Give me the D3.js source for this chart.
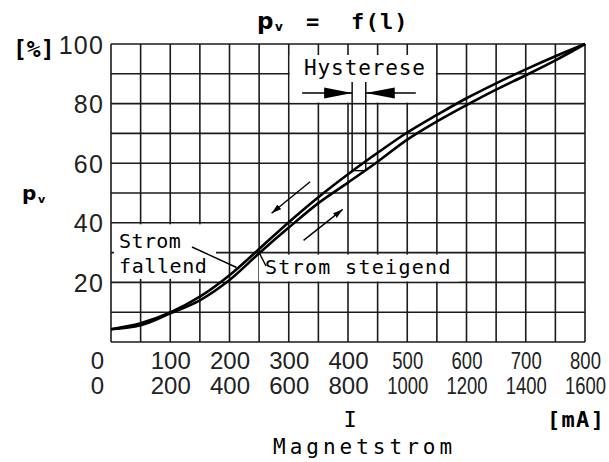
<!DOCTYPE html>
<html>
<head>
<meta charset="utf-8">
<script src="https://cdn.jsdelivr.net/npm/d3@7"></script>
<style>
  body { margin: 0; background: #fff; }
  svg text { white-space: pre; }
</style>
</head>
<body>
<div id="chart"></div>
<script>
// Magnetstrom I [mA] (upper scale) and valve opening pv [%]
const current = [0, 50, 100, 150, 200, 250, 300, 350, 400, 450, 500, 550, 600, 650, 700, 750, 800];
const pvFallend = [4.3, 6.3, 9.9, 15.2, 22.4, 31.2, 40.2, 48.6, 56.3, 63.5, 70.3, 76.2, 81.8, 86.8, 91.5, 95.9, 100];
const pvSteigend = [4.3, 5.6, 9.6, 14.0, 20.8, 29.8, 38.4, 46.6, 53.5, 60.5, 67.9, 74.0, 79.5, 84.7, 89.5, 94.5, 100];

const xTicksTop = [0, 100, 200, 300, 400, 500, 600, 700, 800];
const xTicksBottom = [0, 200, 400, 600, 800, 1000, 1200, 1400, 1600];
const yTicks = [20, 40, 60, 80, 100];

// hysteresis marker: level and the two currents
const hystP = 57.5, hystFall = 407, hystRise = 430;

const width = 609, height = 462;
const margin = {top: 44, right: 24, bottom: 120, left: 111};

const svg = d3.select("#chart").append("svg")
    .attr("width", width)
    .attr("height", height);

const x = d3.scaleLinear().domain([0, 800]).range([margin.left, width - margin.right]);
const x2 = d3.scaleLinear().domain([0, 1600]).range([margin.left, width - margin.right]);
const y = d3.scaleLinear().domain([0, 100]).range([height - margin.bottom, margin.top]);

const ink = "#1b1b1b";

// grid
const grid = svg.append("g").attr("stroke", ink).attr("stroke-width", 1.6);
grid.selectAll(".v").data(d3.range(0, 801, 50)).join("line")
    .attr("x1", d => x(d)).attr("x2", d => x(d))
    .attr("y1", y(0)).attr("y2", y(100));
grid.selectAll(".h").data(d3.range(0, 101, 10)).join("line")
    .attr("x1", x(0)).attr("x2", x(800))
    .attr("y1", d => y(d)).attr("y2", d => y(d));

// white label boxes over the grid
const boxes = svg.append("g").attr("fill", "#fff");
boxes.append("rect")  // Hysterese
    .attr("x", x(300) + 1).attr("y", 55)
    .attr("width", x(550) - x(300) - 2).attr("height", y(80) - 56);
boxes.append("rect")  // Strom fallend
    .attr("x", 114).attr("y", y(40) + 1.5)
    .attr("width", 102).attr("height", y(20) - y(40) - 5);
boxes.append("rect")  // Strom steigend
    .attr("x", 259).attr("y", y(30) + 2)
    .attr("width", 200).attr("height", y(20) - y(30) - 3);

// curves
const line = d3.line()
    .x((d, i) => x(current[i]))
    .y(d => y(d))
    .curve(d3.curveCatmullRom.alpha(0.5));

svg.append("path").attr("d", line(pvFallend))
    .attr("fill", "none").attr("stroke", "#000").attr("stroke-width", 2.6);
svg.append("path").attr("d", line(pvSteigend))
    .attr("fill", "none").attr("stroke", "#000").attr("stroke-width", 2.6);

// direction arrows
svg.append("defs").append("marker")
    .attr("id", "head")
    .attr("viewBox", "0 0 10 6")
    .attr("refX", 10).attr("refY", 3)
    .attr("markerWidth", 10).attr("markerHeight", 6)
    .attr("markerUnits", "userSpaceOnUse")
    .attr("orient", "auto")
  .append("path")
    .attr("d", "M0,0 L10,3 L0,6 Z")
    .attr("fill", "#000");

const dirArrows = [
  {from: [336, 53.8], to: [271, 43.2]},
  {from: [325, 34.1], to: [391, 44.5]}
];
svg.append("g").selectAll("line").data(dirArrows).join("line")
    .attr("x1", d => x(d.from[0])).attr("y1", d => y(d.from[1]))
    .attr("x2", d => x(d.to[0])).attr("y2", d => y(d.to[1]))
    .attr("stroke", "#000").attr("stroke-width", 1.4)
    .attr("marker-end", "url(#head)");

// leader lines for the curve labels
const leaders = [
  {from: [192, 247], to: [x(212), y(25)]},
  {from: [266, 266], to: [x(250), y(30)]}
];
svg.append("g").selectAll("line").data(leaders).join("line")
    .attr("x1", d => d.from[0]).attr("y1", d => d.from[1])
    .attr("x2", d => d.to[0]).attr("y2", d => d.to[1])
    .attr("stroke", "#000").attr("stroke-width", 1.4);

// hysteresis construction
const hy = 93;
const hg = svg.append("g").attr("stroke", "#000").attr("stroke-width", 1.4);
hg.append("line").attr("x1", x(hystFall)).attr("x2", x(hystFall)).attr("y1", 82).attr("y2", y(hystP));
hg.append("line").attr("x1", x(hystRise)).attr("x2", x(hystRise)).attr("y1", 82).attr("y2", y(hystP));
hg.append("line").attr("x1", x(hystFall)).attr("x2", x(hystRise)).attr("y1", y(hystP)).attr("y2", y(hystP));
hg.append("line").attr("x1", x(hystFall) - 50).attr("x2", x(hystFall)).attr("y1", hy).attr("y2", hy);
hg.append("line").attr("x1", x(hystRise)).attr("x2", x(hystRise) + 50).attr("y1", hy).attr("y2", hy);
hg.append("path").attr("stroke", "none").attr("fill", "#000")
    .attr("d", `M${x(hystFall)},${hy} L${x(hystFall) - 28},${hy - 5.5} L${x(hystFall) - 28},${hy + 5.5} Z`);
hg.append("path").attr("stroke", "none").attr("fill", "#000")
    .attr("d", `M${x(hystRise)},${hy} L${x(hystRise) + 29},${hy - 5.5} L${x(hystRise) + 29},${hy + 5.5} Z`);

// axes (labels only)
const numFont = "'Liberation Sans', Arial, sans-serif";
const mono = "'DejaVu Sans Mono', monospace";

function styleAxis(g, narrowFrom) {
  g.select(".domain").remove();
  g.selectAll(".tick line").remove();
  g.selectAll("text")
      .attr("font-family", numFont)
      .attr("font-size", 24)
      .attr("fill", "#222");
  g.selectAll(".tick text")
      .filter(d => d === 0)
      .attr("x", -14);
  // the right half of the scale is lettered narrower
  g.selectAll(".tick text")
      .filter(d => d >= narrowFrom)
      .attr("transform", "scale(0.77,1)");
}

svg.append("g")
    .attr("transform", `translate(0,${y(0)})`)
    .call(d3.axisBottom(x).tickValues(xTicksTop).tickSize(0).tickPadding(10).tickFormat(d3.format("d")))
    .call(g => styleAxis(g, 500));

svg.append("g")
    .attr("transform", `translate(0,${y(0) + 25})`)
    .call(d3.axisBottom(x2).tickValues(xTicksBottom).tickSize(0).tickPadding(10).tickFormat(d3.format("d")))
    .call(g => styleAxis(g, 1000));

svg.append("g")
    .attr("transform", `translate(${x(0)},0)`)
    .call(d3.axisLeft(y).tickValues(yTicks).tickSize(0).tickPadding(7))
    .call(g => {
      g.select(".domain").remove();
      g.selectAll("text").attr("font-family", numFont).attr("font-size", 25).attr("fill", "#222")
          .attr("letter-spacing", 1.2)
          .attr("dy", "0.36em");
    });

// texts
function txt(s, px, py, opts) {
  const t = svg.append("text").attr("x", px).attr("y", py).text(s)
      .attr("font-family", mono).attr("font-size", 21).attr("fill", "#000");
  Object.entries(opts || {}).forEach(([k, v]) => t.attr(k, v));
  return t;
}

// title pv = f(l)
txt("p", 257, 29, {"font-weight": "bold", "font-size": 23, "font-family": "'DejaVu Sans', sans-serif"});
txt("v", 275, 31, {"font-weight": "bold", "font-size": 12, "font-family": "'DejaVu Sans', sans-serif"});
txt("=", 306, 29, {"font-weight": "bold", "font-size": 22});
txt("f(l)", 351, 29, {"font-weight": "bold", "font-size": 22, "letter-spacing": 1.2});

txt("[%]", 13, 57, {"font-weight": "bold", "font-size": 23});

// y label pv
txt("p", 22, 200, {"font-weight": "bold", "font-size": 20, "font-family": "'DejaVu Sans', sans-serif"});
txt("v", 38, 203, {"font-weight": "bold", "font-size": 11, "font-family": "'DejaVu Sans', sans-serif"});

txt("Hysterese", 304, 75, {"letter-spacing": 0.9});
txt("Strom", 119, 248, {"font-size": 20, "letter-spacing": 0.4});
txt("fallend", 119, 273, {"font-size": 20, "letter-spacing": 0.6});
txt("Strom steigend", 265, 274, {"font-size": 20, "letter-spacing": 1.3});

txt("I", 350, 427, {"font-size": 22, "text-anchor": "middle"});
txt("[mA]", 547, 427, {"font-weight": "bold", "font-size": 22, "letter-spacing": 1.3});
txt("Magnetstrom", 273, 454, {"letter-spacing": 4});
</script>
</body>
</html>
